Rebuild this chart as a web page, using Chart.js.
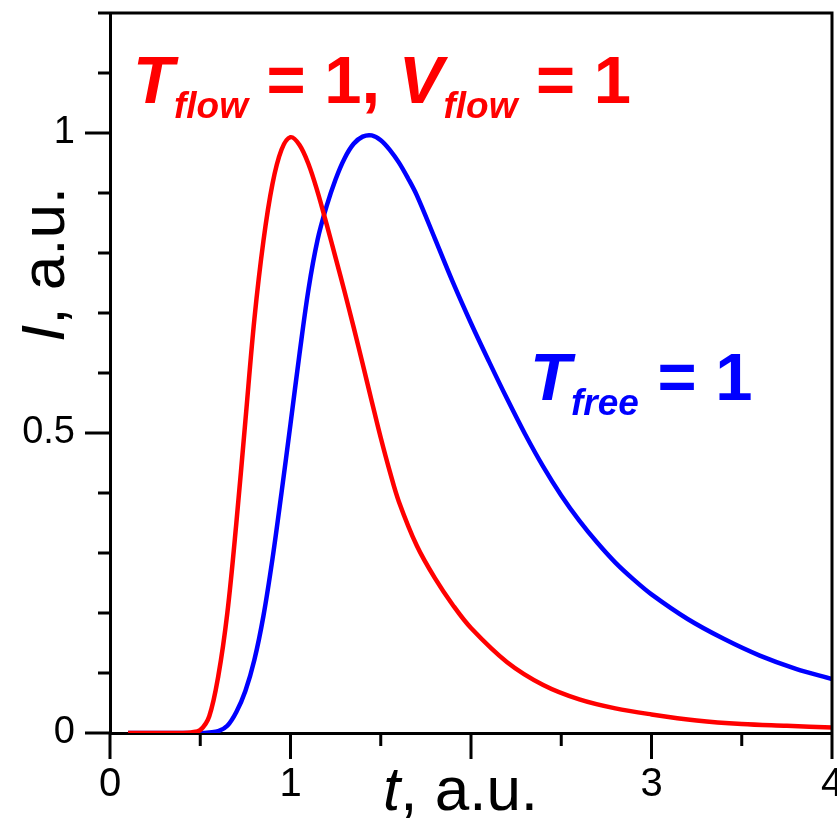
<!DOCTYPE html>
<html>
<head>
<meta charset="utf-8">
<script src="https://cdn.jsdelivr.net/npm/chart.js@4.4.0/dist/chart.umd.min.js"></script>
<style>
  body { margin: 0; background: #fff; }
  #wrap { width: 837px; height: 818px; }
</style>
</head>
<body>
<div id="wrap"><canvas id="chart"></canvas></div>
<script>
// red curve: T_flow = 1, V_flow = 1
const tRed = [0.1, 0.2, 0.3, 0.4, 0.45, 0.5, 0.55, 0.6, 0.65, 0.7, 0.75, 0.8, 0.85, 0.9, 0.95, 1.0,
  1.05, 1.1, 1.15, 1.2, 1.25, 1.3, 1.35, 1.4, 1.45, 1.5, 1.55, 1.6, 1.7, 1.8, 1.9, 2.0,
  2.2, 2.4, 2.6, 2.8, 3.0, 3.25, 3.5, 3.75, 4.0];
const iRed = [0, 0, 0, 0, 0.001, 0.005, 0.028, 0.095, 0.2, 0.35, 0.52, 0.69, 0.82, 0.915, 0.972, 0.993,
  0.98, 0.948, 0.902, 0.848, 0.792, 0.735, 0.676, 0.615, 0.553, 0.492, 0.436, 0.386, 0.312, 0.258, 0.213, 0.175,
  0.118, 0.08, 0.056, 0.041, 0.031, 0.021, 0.015, 0.012, 0.009];

// blue curve: T_free = 1
const tBlue = [0.1, 0.3, 0.5, 0.55, 0.6, 0.65, 0.7, 0.75, 0.8, 0.85, 0.9, 0.95, 1.0, 1.05, 1.1, 1.15,
  1.2, 1.25, 1.3, 1.35, 1.4, 1.45, 1.5, 1.55, 1.6, 1.65, 1.7, 1.8, 1.9, 2.0, 2.1, 2.2, 2.3, 2.4, 2.5,
  2.6, 2.7, 2.8, 2.9, 3.0, 3.2, 3.4, 3.6, 3.8, 4.0];
const iBlue = [0, 0, 0, 0.001, 0.003, 0.012, 0.035, 0.07, 0.122, 0.195, 0.29, 0.4, 0.515, 0.632, 0.74, 0.822,
  0.878, 0.923, 0.958, 0.982, 0.994, 0.996, 0.988, 0.972, 0.951, 0.925, 0.896, 0.824, 0.751, 0.683, 0.619, 0.557, 0.498, 0.444, 0.396,
  0.354, 0.317, 0.284, 0.256, 0.231, 0.19, 0.157, 0.129, 0.107, 0.09];

// axis ticks
const xMajor = [0, 1, 2, 3, 4];
const xMinor = [0.5, 1.5, 2.5, 3.5];
const xLabels = ['0', '1', '', '3', '4'];
const yMajor = [0, 0.5, 1];
const yMinor = [0.1, 0.2, 0.3, 0.4, 0.6, 0.7, 0.8, 0.9, 1.1, 1.2];
const yLabels = ['0', '0.5', '1'];

const FONT = "'Liberation Sans', Arial, sans-serif";

function toPoints(xs, ys) {
  return xs.map((x, i) => ({ x: x, y: ys[i] }));
}

function near(v, arr) {
  return arr.findIndex((a) => Math.abs(a - v) < 1e-6);
}

// draws text pieces one after another (for subscripts / mixed italic)
function richText(ctx, x, y, parts) {
  parts.forEach((p) => {
    ctx.font = p.font;
    ctx.fillText(p.text, x, y + (p.dy || 0));
    x += ctx.measureText(p.text).width;
  });
}

// no automatic label padding, so the plot area stays where it is in the picture
function noPad(s) {
  s.paddingLeft = 0;
  s.paddingRight = 0;
  s.paddingTop = 0;
  s.paddingBottom = 0;
}

const decor = {
  id: 'decor',
  afterDraw(chart) {
    const ctx = chart.ctx;
    const xs = chart.scales.x;
    const ys = chart.scales.y;
    const a = chart.chartArea;
    ctx.save();
    ctx.strokeStyle = '#000';
    ctx.lineWidth = 3;
    ctx.lineCap = 'butt';
    // top and right frame
    ctx.beginPath();
    ctx.moveTo(a.left, a.top);
    ctx.lineTo(a.right, a.top);
    ctx.lineTo(a.right, a.bottom);
    ctx.stroke();
    // tick marks
    ctx.beginPath();
    xMajor.forEach((v) => {
      const px = xs.getPixelForValue(v);
      ctx.moveTo(px, a.bottom);
      ctx.lineTo(px, a.bottom + 26);
    });
    xMinor.forEach((v) => {
      const px = xs.getPixelForValue(v);
      ctx.moveTo(px, a.bottom);
      ctx.lineTo(px, a.bottom + 13);
    });
    yMajor.forEach((v) => {
      const py = ys.getPixelForValue(v);
      ctx.moveTo(a.left, py);
      ctx.lineTo(a.left - 25, py);
    });
    yMinor.forEach((v) => {
      const py = ys.getPixelForValue(v);
      ctx.moveTo(a.left, py);
      ctx.lineTo(a.left - 12, py);
    });
    ctx.stroke();

    ctx.textAlign = 'left';
    ctx.textBaseline = 'alphabetic';
    // axis titles
    ctx.fillStyle = '#000';
    richText(ctx, 383, 810, [
      { text: 't', font: 'italic 62px ' + FONT },
      { text: ', a.u.', font: '62px ' + FONT },
    ]);
    ctx.save();
    ctx.translate(64, 342);
    ctx.rotate(-Math.PI / 2);
    richText(ctx, 0, 0, [
      { text: 'I', font: 'italic 62px ' + FONT },
      { text: ', a.u.', font: '62px ' + FONT },
    ]);
    ctx.restore();

    // curve labels
    const big = 'bold 67px ' + FONT;
    const bigI = 'italic bold 67px ' + FONT;
    const sub = 'italic bold 37px ' + FONT;
    ctx.fillStyle = '#ff0000';
    richText(ctx, 133, 103, [
      { text: 'T', font: bigI },
      { text: 'flow', font: sub, dy: 15 },
      { text: ' = 1, ', font: big },
      { text: 'V', font: bigI },
      { text: 'flow', font: sub, dy: 15 },
      { text: ' = 1', font: big },
    ]);
    ctx.fillStyle = '#0000ff';
    richText(ctx, 530, 400, [
      { text: 'T', font: bigI },
      { text: 'free', font: sub, dy: 15 },
      { text: ' = 1', font: big },
    ]);
    ctx.restore();
  },
};

const ctx = document.getElementById('chart').getContext('2d');
new Chart(ctx, {
  type: 'line',
  data: {
    datasets: [
      {
        label: 'T_flow = 1, V_flow = 1',
        data: toPoints(tRed, iRed),
        borderColor: '#ff0000',
        borderWidth: 4.5,
        pointRadius: 0,
        tension: 0.35,
        fill: false,
      },
      {
        label: 'T_free = 1',
        data: toPoints(tBlue, iBlue),
        borderColor: '#0000ff',
        borderWidth: 4.5,
        pointRadius: 0,
        tension: 0.35,
        fill: false,
      },
    ],
  },
  options: {
    responsive: true,
    maintainAspectRatio: false,
    animation: false,
    layout: { padding: { top: 13, right: 5, left: 0, bottom: 0 } },
    plugins: {
      legend: { display: false },
      tooltip: { enabled: false },
    },
    scales: {
      x: {
        type: 'linear',
        min: 0,
        max: 4,
        grid: { display: false, drawTicks: false },
        border: { display: true, color: '#000', width: 3 },
        afterFit: (s) => { s.height = 85; noPad(s); },
        ticks: {
          stepSize: 0.5,
          padding: 28,
          maxRotation: 0,
          autoSkip: false,
          color: '#000',
          font: { family: FONT, size: 40 },
          callback: (v) => {
            const k = near(v, xMajor);
            return k < 0 ? '' : xLabels[k];
          },
        },
      },
      y: {
        min: 0,
        max: 1.2,
        grid: { display: false, drawTicks: false },
        border: { display: true, color: '#000', width: 3 },
        afterFit: (s) => { s.width = 110; noPad(s); },
        ticks: {
          stepSize: 0.1,
          padding: 35,
          autoSkip: false,
          color: '#000',
          font: { family: FONT, size: 38 },
          callback: (v) => {
            const k = near(v, yMajor);
            return k < 0 ? '' : yLabels[k];
          },
        },
      },
    },
  },
  plugins: [decor],
});
</script>
</body>
</html>
